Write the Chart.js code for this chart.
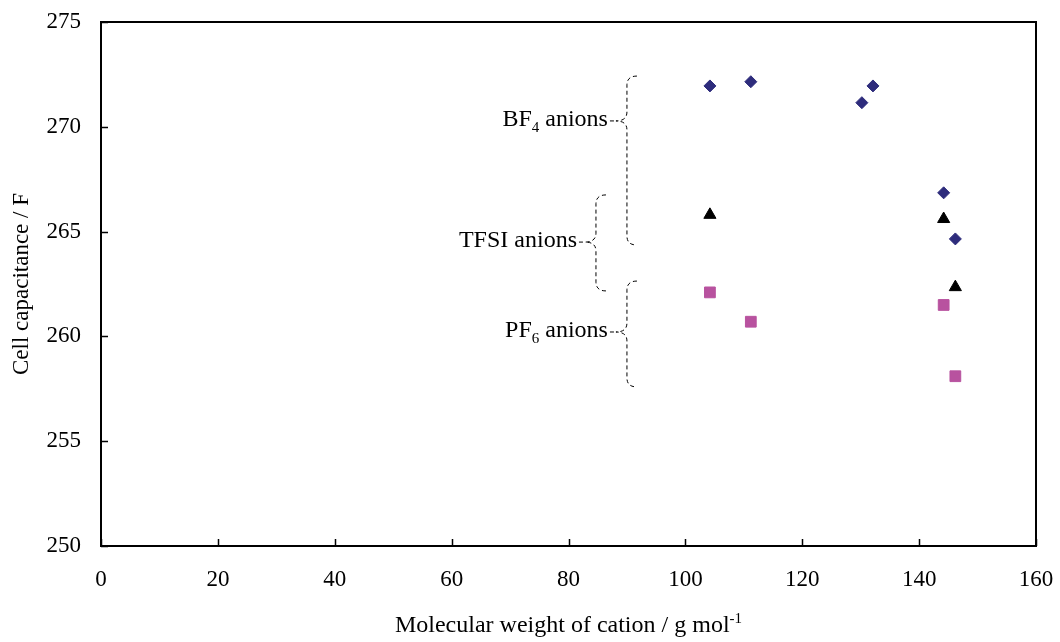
<!DOCTYPE html>
<html>
<head>
<meta charset="utf-8">
<title>Cell capacitance vs molecular weight of cation</title>
<script src="https://cdn.jsdelivr.net/npm/chart.js@4.4.1/dist/chart.umd.min.js"></script>
<style>
    html, body { margin: 0; padding: 0; background: #fff; }
    #wrap { width: 1060px; height: 642px; }
</style>
</head>
<body>
<div id="wrap"><canvas id="capChart" width="1060" height="642"></canvas></div>
<script>
// Data: molecular weight of cation (g/mol) vs cell capacitance (F)
const bf4Weight  = [104.2, 111.2, 130.2, 132.1, 144.2, 146.2];
const bf4Cap     = [271.95, 272.15, 271.15, 271.95, 266.85, 264.65];
const tfsiWeight = [104.2, 144.2, 146.2];
const tfsiCap    = [265.8, 265.6, 262.35];
const pf6Weight  = [104.2, 111.2, 144.2, 146.2];
const pf6Cap     = [262.1, 260.7, 261.5, 258.1];

const xTicks = [0, 20, 40, 60, 80, 100, 120, 140, 160];
const yTicks = [250, 255, 260, 265, 270, 275];

const FONT = '"Liberation Serif", "Times New Roman", serif';

// Brace annotations (in data units)
const braces = [
    { parts: [['BF'], ['4', 'sub'], [' anions']], x: 90.0, top: 272.42, bottom: 264.36, tip: 270.28 },
    { parts: [['TFSI anions']], x: 84.7, top: 266.75, bottom: 262.17, tip: 264.5 },
    { parts: [['PF'], ['6', 'sub'], [' anions']], x: 90.0, top: 262.64, bottom: 257.59, tip: 260.21 }
];

function toPoints(xs, ys) {
    return xs.map(function(x, i) { return { x: x, y: ys[i] }; });
}

// draw text with sub/superscript pieces, right aligned at xRight
function drawRich(ctx, parts, xRight, yMid, size) {
    const small = Math.round(size * 0.64);
    let total = 0;
    parts.forEach(function(p) {
        ctx.font = (p[1] ? small : size) + 'px ' + FONT;
        total += ctx.measureText(p[0]).width;
    });
    let x = xRight - total;
    ctx.textBaseline = 'alphabetic';
    ctx.textAlign = 'left';
    const base = yMid + size * 0.33;
    parts.forEach(function(p) {
        ctx.font = (p[1] ? small : size) + 'px ' + FONT;
        let y = base;
        if (p[1] === 'sub') y += size * 0.24;
        if (p[1] === 'sup') y -= size * 0.38;
        ctx.fillText(p[0], x, y);
        x += ctx.measureText(p[0]).width;
    });
    return total;
}

function drawBrace(ctx, xs, ys, b) {
    const xv = xs.getPixelForValue(b.x);
    const xh = xv + 10;
    const xt = xv - 11;
    const yT = ys.getPixelForValue(b.top);
    const yB = ys.getPixelForValue(b.bottom);
    const yM = ys.getPixelForValue(b.tip);
    const r = 9;
    ctx.beginPath();
    ctx.moveTo(xh, yT);
    ctx.quadraticCurveTo(xv, yT, xv, yT + r);
    ctx.lineTo(xv, yM - r);
    ctx.quadraticCurveTo(xv, yM, xt, yM);
    ctx.quadraticCurveTo(xv, yM, xv, yM + r);
    ctx.lineTo(xv, yB - r);
    ctx.quadraticCurveTo(xv, yB, xh, yB);
    ctx.stroke();
    // little leader dash between label and brace tip
    ctx.beginPath();
    ctx.moveTo(xt - 6, yM);
    ctx.lineTo(xt - 2, yM);
    ctx.stroke();
    drawRich(ctx, b.parts, xt - 8, yM - 3, 24);
}

const framePlugin = {
    id: 'frame',
    afterDraw: function(chart) {
        const ctx = chart.ctx;
        const a = chart.chartArea;
        const xs = chart.scales.x;
        const ys = chart.scales.y;
        ctx.save();

        // plot frame
        ctx.strokeStyle = '#000';
        ctx.lineWidth = 2;
        ctx.strokeRect(a.left, a.top, a.right - a.left, a.bottom - a.top);

        // inside tick marks
        ctx.lineWidth = 1.5;
        ctx.beginPath();
        yTicks.forEach(function(v) {
            const y = Math.round(ys.getPixelForValue(v)) + 0.5;
            ctx.moveTo(a.left, y);
            ctx.lineTo(a.left + 7, y);
        });
        xTicks.forEach(function(v) {
            const x = Math.round(xs.getPixelForValue(v)) + 0.5;
            ctx.moveTo(x, a.bottom);
            ctx.lineTo(x, a.bottom - 7);
        });
        ctx.stroke();

        // braces and labels
        ctx.lineWidth = 1;
        ctx.setLineDash([4, 3]);
        ctx.fillStyle = '#000';
        braces.forEach(function(b) { drawBrace(ctx, xs, ys, b); });
        ctx.setLineDash([]);

        // x axis title with superscript
        const parts = [['Molecular weight of cation / g mol'], ['-1', 'sup']];
        ctx.font = '24px ' + FONT;
        let w = ctx.measureText(parts[0][0]).width;
        ctx.font = '15px ' + FONT;
        w += ctx.measureText(parts[1][0]).width;
        const cx = (a.left + a.right) / 2;
        drawRich(ctx, parts, cx + w / 2, 624, 24);

        ctx.restore();
    }
};

new Chart(document.getElementById('capChart'), {
    type: 'scatter',
    data: {
        datasets: [{
            label: 'BF4 anions',
            data: toPoints(bf4Weight, bf4Cap),
            pointStyle: 'rectRot',
            pointRadius: 6,
            backgroundColor: '#2e2c7c',
            borderColor: '#2e2c7c',
            borderWidth: 1
        }, {
            label: 'TFSI anions',
            data: toPoints(tfsiWeight, tfsiCap),
            pointStyle: 'triangle',
            pointRadius: 7,
            backgroundColor: '#000',
            borderColor: '#000',
            borderWidth: 1
        }, {
            label: 'PF6 anions',
            data: toPoints(pf6Weight, pf6Cap),
            pointStyle: 'rect',
            pointRadius: 7.6,
            backgroundColor: '#b8529f',
            borderColor: '#b8529f',
            borderWidth: 1
        }]
    },
    options: {
        responsive: false,
        animation: false,
        devicePixelRatio: 1,
        layout: { padding: { top: 22, right: 24, left: 0, bottom: 0 } },
        plugins: {
            legend: { display: false },
            tooltip: { enabled: false }
        },
        scales: {
            x: {
                type: 'linear',
                min: xTicks[0],
                max: xTicks[xTicks.length - 1],
                afterBuildTicks: function(s) { s.ticks = xTicks.map(function(v) { return { value: v }; }); },
                afterFit: function(s) {
                    s.height = 96;
                    s.paddingLeft = 0;
                    s.paddingRight = 0;
                },
                grid: { display: false, drawTicks: false },
                border: { display: false },
                ticks: {
                    color: '#000',
                    font: { family: FONT, size: 23 },
                    padding: 20,
                    maxRotation: 0
                }
            },
            y: {
                type: 'linear',
                min: yTicks[0],
                max: yTicks[yTicks.length - 1],
                afterBuildTicks: function(s) { s.ticks = yTicks.map(function(v) { return { value: v }; }); },
                afterFit: function(s) {
                    s.width = 101;
                    s.paddingTop = 0;
                    s.paddingBottom = 0;
                },
                grid: { display: false, drawTicks: false },
                border: { display: false },
                ticks: {
                    color: '#000',
                    font: { family: FONT, size: 23 },
                    padding: 20
                },
                title: {
                    display: true,
                    text: 'Cell capacitance / F',
                    color: '#000',
                    font: { family: FONT, size: 23 },
                    padding: { top: 8, bottom: 0 }
                }
            }
        }
    },
    plugins: [framePlugin]
});
</script>
</body>
</html>
